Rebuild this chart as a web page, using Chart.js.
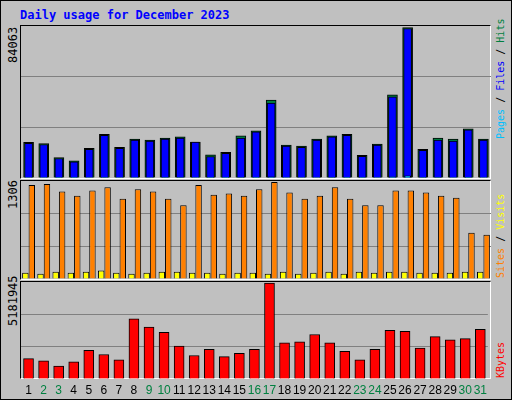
<!DOCTYPE html>
<html><head><meta charset="utf-8">
<script src="https://cdn.jsdelivr.net/npm/chart.js@4/dist/chart.umd.min.js"></script>
<style>
body{margin:0;background:#fff;}
#wrap{position:relative;width:510px;height:398px;background:#c0c0c0;border:1px solid #000;overflow:hidden;font-family:"DejaVu Sans Mono",monospace;}
.frame{position:absolute;left:19px;width:471px;border-top:1px solid #000;border-left:1px solid #000;border-right:1px solid #fff;border-bottom:1px solid #fff;box-sizing:border-box;}
canvas{position:absolute;}
.vl{position:absolute;transform:rotate(-90deg);transform-origin:left top;white-space:nowrap;font-size:12px;}
.vr{font-size:10px;}
#title{position:absolute;left:19px;top:7px;color:#0000ff;font-weight:bold;font-size:12px;}
</style></head><body>
<div id="wrap">
  <div id="title">Daily usage for December 2023</div>
  <div class="frame" style="top:24px;height:154px"></div>
  <div class="frame" style="top:179px;height:100px"></div>
  <div class="frame" style="top:280px;height:98px"></div>
  <canvas id="c1" style="left:20px;top:25px;width:470px;height:152px"></canvas>
  <canvas id="c2" style="left:20px;top:180px;width:470px;height:98px"></canvas>
  <canvas id="c3" style="left:20px;top:281px;width:470px;height:116px"></canvas>
  <div class="vl" id="l1" style="left:5px;top:62px;color:#000"></div>
  <div class="vl" id="l2" style="left:5px;top:208px;color:#000"></div>
  <div class="vl" id="l3" style="left:5px;top:325px;color:#000"></div>
  <div class="vl vr" style="left:494px;top:138px"><span style="color:#00c0ff">Pages</span> / <span style="color:#0000ff">Files</span> / <span style="color:#008040">Hits</span></div>
  <div class="vl vr" style="left:494px;top:277px"><span style="color:#ff8000">Sites</span> / <span style="color:#ffff00">Visits</span></div>
  <div class="vl vr" style="left:494px;top:377px;color:#ff0000">KBytes</div>
</div>
<script>
// Data
const days = ['1','2','3','4','5','6','7','8','9','10','11','12','13','14','15','16','17','18','19','20','21','22','23','24','25','26','27','28','29','30','31'];
const weekendDays = [2,3,9,10,16,17,23,24,30,31];
const hits = [19870,19290,11460,9550,16620,24450,17190,21780,21210,22350,22930,20060,12990,14330,23500,26360,43560,18340,17770,21780,23500,24450,12610,18910,46420,84063,16050,22350,21780,27510,21780];
const files = [19300,18720,10890,8980,16050,23880,16620,21210,20640,21780,22360,20060,12030,13760,22350,25790,41840,17770,17200,21210,22930,23880,12040,18340,45270,83490,15480,21210,20640,26940,21210];
const pages = [300,280,200,180,260,320,270,300,300,310,320,290,210,220,320,340,600,280,270,300,320,330,210,280,650,1200,250,310,300,360,300];
const sites = [1264,1278,1178,1121,1192,1235,1079,1207,1178,1079,994,1264,1135,1150,1121,1207,1306,1164,1079,1121,1235,1079,994,994,1192,1192,1164,1121,1093,624,596];
const visits = [85,71,99,85,99,113,85,71,85,99,99,85,85,71,85,85,71,99,71,85,99,71,99,85,99,99,85,85,85,99,99];
const kbytes = [1096900,983400,699700,926700,1550800,1323800,1040200,3252900,2799000,2515300,1777700,1267100,1607500,1210400,1380600,1607500,5181945,1947900,2004700,2401800,1947900,1494000,1040200,1607500,2628800,2572000,1664300,2288400,2118100,2174900,2685500];
const maxHits = 84063, maxSites = 1306, maxKbytes = 5181945;

document.getElementById('l1').textContent = maxHits;
document.getElementById('l2').textContent = maxSites;
document.getElementById('l3').textContent = maxKbytes;

function yScale(max) {
  return {
    min: 0, max: max * 1.01,
    ticks: { display: false, stepSize: max / 3 },
    border: { display: false },
    grid: { drawTicks: false, color: c => (c.tick.value > 0 && c.tick.value < max) ? '#808080' : 'rgba(0,0,0,0)', lineWidth: 1 },
    afterFit: a => { a.width = 0; }
  };
}
function xHidden() {
  return { display: false, offset: true };
}
const base = {
  responsive: false, animation: false,
  plugins: { legend: { display: false }, tooltip: { enabled: false } },
  layout: { padding: 0 }
};
function makeCanvas(id) {
  const c = document.getElementById(id);
  c.width = parseInt(c.style.width); c.height = parseInt(c.style.height);
  return c;
}

new Chart(makeCanvas('c1'), {
  type: 'bar',
  data: { labels: days, datasets: [
    { data: pages, backgroundColor: '#00c0ff', borderColor: '#000', borderWidth: 1, barThickness: 6, grouped: false, order: 0 },
    { data: files, backgroundColor: '#0000ff', borderColor: '#000', borderWidth: 1, barThickness: 8, grouped: false, order: 1 },
    { data: hits, backgroundColor: '#008040', borderColor: '#000', borderWidth: 1, barThickness: 10, grouped: false, order: 2 }
  ]},
  options: { ...base, scales: { x: xHidden(), y: yScale(maxHits) } }
});

new Chart(makeCanvas('c2'), {
  type: 'bar',
  data: { labels: days, datasets: [
    { data: visits, backgroundColor: '#ffff00', borderColor: '#000', borderWidth: 1 },
    { data: sites, backgroundColor: '#ff8000', borderColor: '#000', borderWidth: 1 }
  ]},
  options: { ...base, datasets: { bar: { categoryPercentage: 0.85, barPercentage: 1 } },
    scales: { x: xHidden(), y: yScale(maxSites) } }
});

new Chart(makeCanvas('c3'), {
  type: 'bar',
  data: { labels: days, datasets: [
    { data: kbytes, backgroundColor: '#ff0000', borderColor: '#000', borderWidth: 1, barThickness: 10 }
  ]},
  options: { ...base, scales: {
    x: { offset: true, border: { display: false }, grid: { display: false, drawTicks: false },
      ticks: { padding: 4, maxRotation: 0, autoSkip: false, font: { family: 'Liberation Sans', size: 12 },
        color: c => weekendDays.includes(c.index + 1) ? '#008040' : '#000' },
      afterFit: a => { a.height = 19; } },
    y: yScale(maxKbytes) } }
});
</script>
</body></html>
